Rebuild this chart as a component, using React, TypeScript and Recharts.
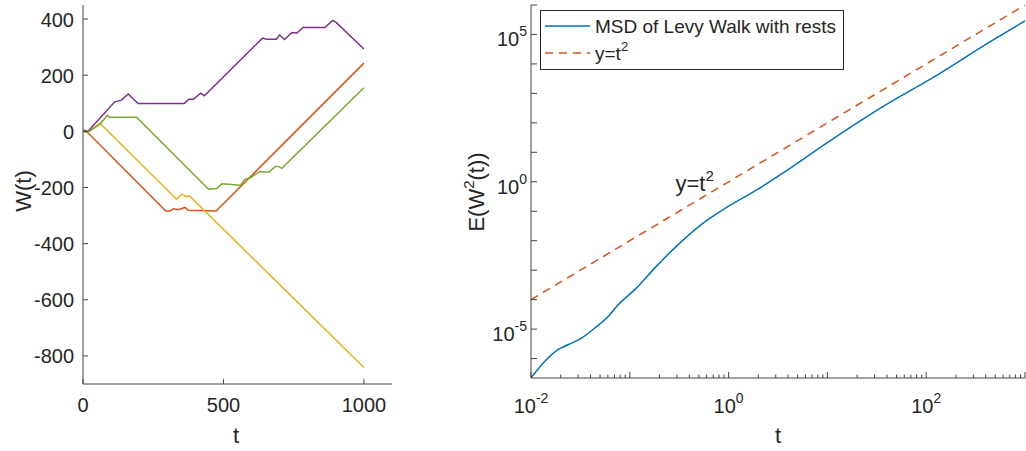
import { ComposedChart, Customized, Legend, Line, ReferenceDot, XAxis, YAxis } from 'recharts'

const FONT = '"Liberation Sans", Arial, Helvetica, sans-serif'
const INK = '#262626'
const BOX = '#444444'

const RED = '#D95319'
const YELLOW = '#EDB120'
const PURPLE = '#7E2F8E'
const GREEN = '#77AC30'
const BLUE = '#0072BD'

// left panel: four sample paths W(t)
const redT = [0, 5, 12, 295, 310, 322, 339, 363, 375, 474, 1000]
const redW = [0, 4, 0, -284, -284, -276, -279, -271, -281, -284, 243]

const yellowT = [0, 15, 30, 60, 333, 351, 367, 379, 1000]
const yellowW = [0, -3, 8, 29, -242, -224, -233, -230, -841]

const purpleT = [0, 18, 113, 137, 161, 196, 360, 377, 393, 419, 432, 639, 652, 688, 700, 717, 744, 762, 783, 861, 889, 899, 1000]
const purpleW = [0, 0, 105, 111, 133, 99, 99, 114, 114, 136, 127, 332, 328, 328, 343, 327, 352, 350, 370, 370, 395, 390, 293]

const greenT = [0, 15, 30, 60, 87, 95, 191, 447, 476, 494, 560, 577, 595, 629, 661, 685, 696, 708, 1000]
const greenW = [0, -4, 5, 25, 57, 50, 50, -206, -204, -187, -192, -170, -166, -143, -146, -125, -125, -132, 155]

const walkXTicks = [0, 500, 1000]
const walkYTicks = [-800, -600, -400, -200, 0, 200, 400]

// right panel: MSD vs t on log-log axes
const msdT = [0.01, 0.01374, 0.01875, 0.02366, 0.03236, 0.04395, 0.0603, 0.0759, 0.1114, 0.1845, 0.2831, 0.5248, 1, 1.986, 3.311, 10.62, 34.04, 138, 432.5, 1000]
const msdY = [2.19e-7, 7.94e-7, 2.0e-6, 2.95e-6, 4.9e-6, 1.07e-5, 2.69e-5, 6.61e-5, 2.14e-4, 1.32e-3, 5.62e-3, 0.0347, 0.148, 0.562, 1.7, 24.5, 309, 4790, 53700, 288000]

const parabolaT = [0.01, 0.1, 1, 10, 100, 1000]
const parabolaY = [1e-4, 1e-2, 1, 1e2, 1e4, 1e6]

const logXTicks = [
  0.01, 0.02, 0.03, 0.04, 0.05, 0.06, 0.07, 0.08, 0.09,
  0.1, 0.2, 0.3, 0.4, 0.5, 0.6, 0.7, 0.8, 0.9,
  1, 2, 3, 4, 5, 6, 7, 8, 9,
  10, 20, 30, 40, 50, 60, 70, 80, 90,
  100, 200, 300, 400, 500, 600, 700, 800, 900,
  1000,
]
const logYTicks = [1e-6, 1e-5, 1e-4, 1e-3, 1e-2, 1e-1, 1, 1e1, 1e2, 1e3, 1e4, 1e5, 1e6]
const logXLabels = [0.01, 1, 100]
const logYLabels = [1e-5, 1, 1e5]

const zip = (t: number[], w: number[]) => t.map((v, i) => ({ t: v, w: w[i] }))

const redData = zip(redT, redW)
const yellowData = zip(yellowT, yellowW)
const purpleData = zip(purpleT, purpleW)
const greenData = zip(greenT, greenW)
const msdData = zip(msdT, msdY)
const parabolaData = zip(parabolaT, parabolaY)

const txt = { fontFamily: FONT, fill: INK }

function WalkTick(props: any) {
  const { x, y, payload, side } = props
  const v = payload.value
  if (side === 'bottom')
    return (
      <g>
        <line x1={x} x2={x} y1={y} y2={y - 5} stroke={BOX} />
        <text x={x} y={y + 28} textAnchor="middle" fontSize={20} {...txt}>{v}</text>
      </g>
    )
  if (side === 'top') return <line x1={x} x2={x} y1={y} y2={y + 5} stroke={BOX} />
  if (side === 'left')
    return (
      <g>
        <line x1={x} x2={x + 5} y1={y} y2={y} stroke={BOX} />
        <text x={x - 9} y={y + 7.5} textAnchor="end" fontSize={20} {...txt}>{v}</text>
      </g>
    )
  return <line x1={x} x2={x - 5} y1={y} y2={y} stroke={BOX} />
}

function LogTick(props: any) {
  const { x, y, payload, side, labels } = props
  const v = payload.value
  const e = Math.log10(v)
  const decade = Math.abs(e - Math.round(e)) < 1e-6
  const len = decade ? 6 : 3.5
  const labelled = labels && labels.some((l: number) => Math.abs(Math.log10(l) - e) < 1e-6)
  const exp = Math.round(e)
  if (side === 'bottom')
    return (
      <g>
        <line x1={x} x2={x} y1={y} y2={y - len} stroke={BOX} />
        {labelled && (
          <text x={x} y={y + 35} textAnchor="middle" fontSize={20} {...txt}>
            10<tspan dy={-10} fontSize={14}>{exp}</tspan>
          </text>
        )}
      </g>
    )
  if (side === 'top') return <line x1={x} x2={x} y1={y} y2={y + len} stroke={BOX} />
  if (side === 'left')
    return (
      <g>
        <line x1={x} x2={x + len} y1={y} y2={y} stroke={BOX} />
        {labelled && (
          <text x={x - 4} y={y + 12} textAnchor="end" fontSize={20} {...txt}>
            10<tspan dy={-10} fontSize={14}>{exp}</tspan>
          </text>
        )}
      </g>
    )
  return <line x1={x} x2={x - len} y1={y} y2={y} stroke={BOX} />
}

function WalkTitles() {
  return (
    <g>
      <text x={31} y={191} transform="rotate(-90 31 191)" textAnchor="middle" fontSize={22} {...txt}>W(t)</text>
      <text x={236} y={443} textAnchor="middle" fontSize={22} {...txt}>t</text>
    </g>
  )
}

function MsdTitles() {
  return (
    <g>
      <text x={34} y={192} transform="rotate(-90 34 192)" textAnchor="middle" fontSize={22} {...txt}>
        E(W<tspan dy={-10} fontSize={15}>2</tspan><tspan dy={10}>(t))</tspan>
      </text>
      <text x={328} y={443} textAnchor="middle" fontSize={22} {...txt}>t</text>
    </g>
  )
}

function MsdLegend() {
  return (
    <svg width={304} height={60} style={{ display: 'block' }}>
      <rect x={0.5} y={0.5} width={303} height={59} fill="#ffffff" stroke={INK} />
      <line x1={5} x2={50} y1={16} y2={16} stroke={BLUE} strokeWidth={1.5} />
      <text x={55} y={22.5} fontSize={19} {...txt}>MSD of Levy Walk with rests</text>
      <line x1={5} x2={50} y1={43} y2={43} stroke={RED} strokeWidth={1.5} strokeDasharray="8 6" />
      <text x={55} y={50} fontSize={19} {...txt}>
        y=t<tspan dy={-9} fontSize={13}>2</tspan>
      </text>
    </svg>
  )
}

function Annotation(props: any) {
  const { cx, cy } = props
  return (
    <text x={cx} y={cy} fontSize={22} {...txt}>
      y=t<tspan dy={-10} fontSize={15}>2</tspan>
    </text>
  )
}

export default function App() {
  return (
    <div style={{ position: 'absolute', left: 0, top: 0, width: 1026, height: 451, background: '#fff' }}>
      <div style={{ position: 'absolute', left: 0, top: 0 }}>
        <ComposedChart width={400} height={451} margin={{ top: 5, right: 8, bottom: 0, left: 0 }}>
          <XAxis xAxisId="b" type="number" dataKey="t" domain={[0, 1100]} allowDataOverflow ticks={walkXTicks}
            interval={0} height={67} tickSize={0} tickMargin={0} tickLine={false} axisLine={{ stroke: BOX }}
            tick={<WalkTick side="bottom" />} />
          <XAxis xAxisId="t" orientation="top" type="number" dataKey="t" domain={[0, 1100]} allowDataOverflow
            ticks={walkXTicks} interval={0} height={0} tickSize={0} tickMargin={0} tickLine={false}
            axisLine={{ stroke: BOX }} tick={<WalkTick side="top" />} />
          <YAxis yAxisId="l" type="number" domain={[-900, 450]} allowDataOverflow ticks={walkYTicks} interval={0}
            width={83} tickSize={0} tickMargin={0} tickLine={false} axisLine={{ stroke: BOX }}
            tick={<WalkTick side="left" />} />
          <YAxis yAxisId="r" orientation="right" type="number" domain={[-900, 450]} allowDataOverflow
            ticks={walkYTicks} interval={0} width={0} tickSize={0} tickMargin={0} tickLine={false}
            axisLine={{ stroke: BOX }} tick={<WalkTick side="right" />} />
          <Line xAxisId="b" yAxisId="l" data={redData} dataKey="w" type="linear" stroke={RED} strokeWidth={1.5} dot={false} isAnimationActive={false} />
          <Line xAxisId="b" yAxisId="l" data={yellowData} dataKey="w" type="linear" stroke={YELLOW} strokeWidth={1.5} dot={false} isAnimationActive={false} />
          <Line xAxisId="b" yAxisId="l" data={purpleData} dataKey="w" type="linear" stroke={PURPLE} strokeWidth={1.5} dot={false} isAnimationActive={false} />
          <Line xAxisId="b" yAxisId="l" data={greenData} dataKey="w" type="linear" stroke={GREEN} strokeWidth={1.5} dot={false} isAnimationActive={false} />
          <Customized component={<WalkTitles />} />
        </ComposedChart>
      </div>
      <div style={{ position: 'absolute', left: 450, top: 0 }}>
        <ComposedChart width={576} height={451} margin={{ top: 5, right: 1, bottom: 0, left: 0 }}>
          <XAxis xAxisId="b" type="number" scale="log" dataKey="t" domain={[0.01, 1000]} allowDataOverflow
            ticks={logXTicks} interval={0} height={73} tickSize={0} tickMargin={0} tickLine={false}
            axisLine={{ stroke: BOX }} tick={<LogTick side="bottom" labels={logXLabels} />} />
          <XAxis xAxisId="t" orientation="top" type="number" scale="log" dataKey="t" domain={[0.01, 1000]}
            allowDataOverflow ticks={logXTicks} interval={0} height={0} tickSize={0} tickMargin={0}
            tickLine={false} axisLine={{ stroke: BOX }} tick={<LogTick side="top" />} />
          <YAxis yAxisId="l" type="number" scale="log" domain={[2.19e-7, 1e6]} allowDataOverflow ticks={logYTicks}
            interval={0} width={81} tickSize={0} tickMargin={0} tickLine={false} axisLine={{ stroke: BOX }}
            tick={<LogTick side="left" labels={logYLabels} />} />
          <YAxis yAxisId="r" orientation="right" type="number" scale="log" domain={[2.19e-7, 1e6]}
            allowDataOverflow ticks={logYTicks} interval={0} width={0} tickSize={0} tickMargin={0}
            tickLine={false} axisLine={{ stroke: BOX }} tick={<LogTick side="right" />} />
          <Line xAxisId="b" yAxisId="l" data={msdData} dataKey="w" type="monotone" stroke={BLUE} strokeWidth={1.5} dot={false} isAnimationActive={false} />
          <Line xAxisId="b" yAxisId="l" data={parabolaData} dataKey="w" type="linear" stroke={RED} strokeWidth={1.5} strokeDasharray="8 6" dot={false} isAnimationActive={false} />
          <ReferenceDot xAxisId="b" yAxisId="l" x={0.29} y={0.49} r={0} ifOverflow="visible" shape={<Annotation />} />
          <Legend verticalAlign="middle" align="center" layout="horizontal" content={<MsdLegend />}
            wrapperStyle={{ left: 90, top: 10, width: 304, height: 60 }} />
          <Customized component={<MsdTitles />} />
        </ComposedChart>
      </div>
    </div>
  )
}
